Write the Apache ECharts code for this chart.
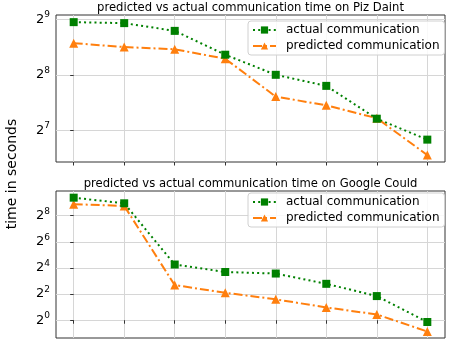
<!DOCTYPE html>
<html>
<head>
<meta charset="utf-8">
<script src="https://cdn.jsdelivr.net/npm/echarts@6/dist/echarts.min.js"></script>
<style>
  html, body { margin: 0; padding: 0; background: #fff; }
  #chart { width: 449px; height: 344px; }
</style>
</head>
<body>
<div id="chart"></div>
<script>
// run index for each point (no x labels in the figure)
const runs = [0, 1, 2, 3, 4, 5, 6, 7];

// Piz Daint, seconds
const pizActual = [494, 488, 443, 329, 256, 223, 148, 114];
const pizPredicted = [380, 362, 352, 313, 195, 175, 149, 94];

// Google Cloud, seconds
const gcActual = [666, 494, 19.2, 12.9, 11.9, 6.9, 3.6, 0.91];
const gcPredicted = [471, 431, 6.45, 4.3, 3.03, 1.97, 1.36, 0.55];

// y tick exponents (ticks are 2^n)
const pizTicks = [7, 8, 9];
const gcTicks = [0, 2, 4, 6, 8];

const titles = [
  "predicted vs actual communication time on Piz Daint",
  "predicted vs actual communication time on Google Could"
];
const legendNames = ["actual communication", "predicted communication"];

const GREEN = "#008000";
const ORANGE = "#ff7f0e";
const FONT = "DejaVu Sans";

const toPoints = (vals) => vals.map((v, i) => [runs[i], Math.log2(v)]);

const xAxisBase = (gridIndex) => ({
  type: "value",
  gridIndex: gridIndex,
  min: -0.35,
  max: 7.35,
  axisLine: { show: false },
  axisTick: { show: true, length: 3.5, customValues: runs, lineStyle: { color: "#333" } },
  axisLabel: { show: false, customValues: runs },
  splitLine: { show: true, lineStyle: { color: "#d6d6d6", width: 1 } }
});

const yAxisBase = (gridIndex, min, max, ticks) => ({
  type: "value",
  gridIndex: gridIndex,
  min: min,
  max: max,
  axisLine: { show: false },
  axisTick: { show: true, length: 3.5, customValues: ticks, lineStyle: { color: "#333" } },
  axisLabel: {
    customValues: ticks,
    margin: 6,
    formatter: (v) => "{b|2}{e|" + v + "}",
    rich: {
      b: { fontFamily: FONT, fontSize: 13, color: "#000" },
      e: { fontFamily: FONT, fontSize: 9, color: "#000", padding: [0, 0, 9, 0] }
    }
  },
  splitLine: { show: true, lineStyle: { color: "#d6d6d6", width: 1 } }
});

const actualSeries = (idx, vals) => ({
  name: legendNames[0],
  type: "line",
  xAxisIndex: idx,
  yAxisIndex: idx,
  data: toPoints(vals),
  symbol: "rect",
  symbolSize: 8,
  itemStyle: { color: GREEN },
  lineStyle: { color: GREEN, width: 2, type: [2, 3.2] },
  z: 3
});

const predictedSeries = (idx, vals) => ({
  name: legendNames[1],
  type: "line",
  xAxisIndex: idx,
  yAxisIndex: idx,
  data: toPoints(vals),
  symbol: "triangle",
  symbolSize: 9,
  itemStyle: { color: ORANGE },
  lineStyle: { color: ORANGE, width: 2, type: [9, 3, 2, 3] },
  z: 2
});

const legendBase = (top) => ({
  orient: "vertical",
  left: 248,
  top: top,
  itemWidth: 23,
  itemHeight: 9,
  itemGap: 4,
  padding: [3, 5, 3, 4],
  backgroundColor: "rgba(255,255,255,0.85)",
  borderColor: "#d0d0d0",
  borderWidth: 1,
  borderRadius: 3,
  textStyle: { fontFamily: FONT, fontSize: 12, color: "#000", padding: [0, 0, 0, 5] },
  data: legendNames
});

const titleStyle = { fontFamily: FONT, fontSize: 11.6, fontWeight: "normal", color: "#000" };

const chart = echarts.init(document.getElementById("chart"), null, { renderer: "canvas" });
chart.setOption({
  animation: false,
  backgroundColor: "#fff",
  title: [
    { text: titles[0], left: 250.5, top: 2, textAlign: "center", padding: 0, textStyle: titleStyle },
    { text: titles[1], left: 250.5, top: 178, textAlign: "center", padding: 0, textStyle: titleStyle }
  ],
  grid: [
    { left: 56, right: 4, top: 15, height: 147, show: true, borderColor: "#333", borderWidth: 1 },
    { left: 56, right: 4, top: 191, height: 147, show: true, borderColor: "#333", borderWidth: 1 }
  ],
  xAxis: [xAxisBase(0), xAxisBase(1)],
  yAxis: [yAxisBase(0, 6.43, 9.077, pizTicks), yAxisBase(1, -1.36, 9.89, gcTicks)],
  legend: [legendBase(21), legendBase(193)],
  series: [
    actualSeries(0, pizActual),
    predictedSeries(0, pizPredicted),
    actualSeries(1, gcActual),
    predictedSeries(1, gcPredicted)
  ],
  graphic: [
    { type: "text", x: 12, y: 174, rotation: Math.PI / 2,
      style: { text: "time in seconds", fontFamily: FONT, fontSize: 14, fill: "#000",
               align: "center", verticalAlign: "middle" } }
  ]
});
</script>
</body>
</html>
